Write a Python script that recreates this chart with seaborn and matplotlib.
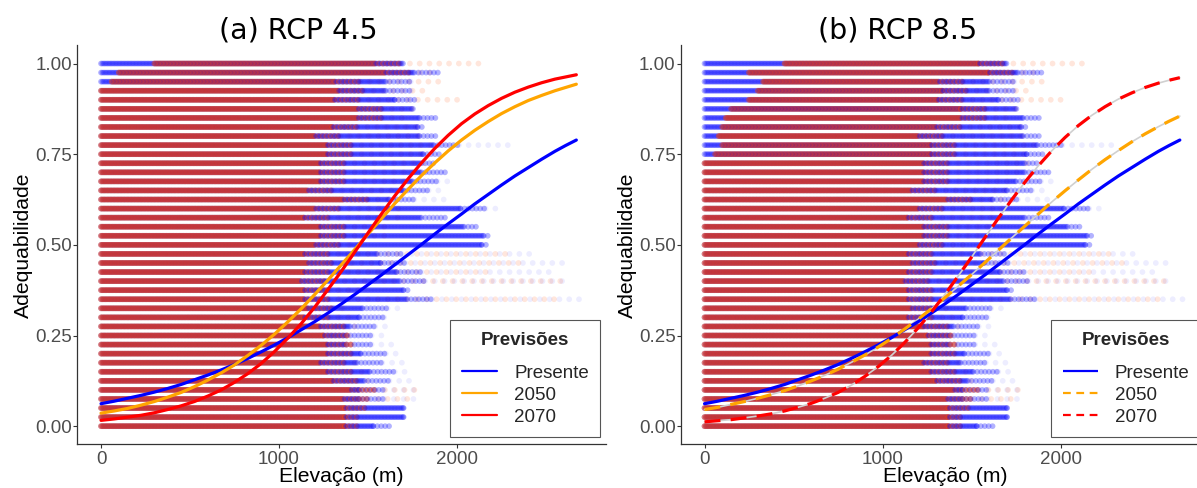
import numpy as np
import pandas as pd
import matplotlib
matplotlib.use("Agg")
import matplotlib.pyplot as plt
from matplotlib.lines import Line2D
import seaborn as sns

sns.set_theme(style="ticks")
plt.rcParams["font.family"] = ["Liberation Sans", "DejaVu Sans"]

# Suitability classes of the raster cells
niveis = [0.000, 0.025, 0.050, 0.075, 0.100, 0.125, 0.150, 0.175, 0.200, 0.225,
          0.250, 0.275, 0.300, 0.325, 0.350, 0.375, 0.400, 0.425, 0.450, 0.475,
          0.500, 0.525, 0.550, 0.575, 0.600, 0.625, 0.650, 0.675, 0.700, 0.725,
          0.750, 0.775, 0.800, 0.825, 0.850, 0.875, 0.900, 0.925, 0.950, 0.975,
          1.000]

# Presente: elevation (m) where the dense band ends / where the scattered cells end
presente_fim = [1530, 1700, 1700, 1450, 1450, 1480, 1510, 1440, 1460, 1380,
                1380, 1400, 1450, 1470, 1720, 1700, 1680, 1660, 1570, 1550,
                2140, 2150, 2040, 1800, 2020, 1620, 1700, 1750, 1800, 1800,
                1810, 1870, 1790, 1780, 1790, 1760, 1650, 1600, 1600, 1760,
                1700]
presente_cauda = [1620, 1720, 1720, 1760, 1770, 1750, 1760, 1700, 1700, 1680,
                  1600, 1640, 1620, 1720, 2690, 1740, 2600, 2520, 2630, 2460,
                  2180, 2180, 2120, 1940, 2240, 1950, 1950, 1950, 1940, 1880,
                  1900, 2300, 1880, 1810, 1880, 1760, 1770, 1760, 1760, 1900,
                  1700]

# Future scenarios (2050 / 2070): start of the band, end of the dense band, end of scattered cells
futuro_ini_a = [0] * 38 + [60, 100, 300]
futuro_ini_b = [0] * 30 + [60, 100, 80, 100, 120, 150, 250, 300, 330, 250, 450]
futuro_fim = [1370, 1370, 1370, 1360, 1400, 1300, 1270, 1230, 1270, 1270,
              1250, 1230, 1140, 1160, 1140, 1140, 1120, 1140, 1160, 1140,
              1200, 1230, 1230, 1140, 1200, 1360, 1160, 1230, 1230, 1230,
              1270, 1270, 1200, 1300, 1440, 1440, 1310, 1335, 1314, 1595,
              1540]
futuro_cauda = [1450, 1450, 1500, 1760, 1770, 1500, 1500, 1450, 1450, 1450,
                1400, 1450, 1400, 1400, 2560, 1450, 2600, 2200, 2400, 2300,
                1500, 1600, 1600, 1700, 1700, 1700, 1700, 1750, 1800, 1850,
                1850, 1900, 1800, 1800, 1700, 1750, 2030, 1810, 1900, 1900,
                2140]

# Fitted suitability curves along elevation
elev_curva = [0, 75, 150, 225, 300, 375, 450, 525, 600, 675, 750, 825, 900, 975,
              1050, 1125, 1200, 1275, 1350, 1425, 1500, 1575, 1650, 1725, 1800,
              1875, 1950, 2025, 2100, 2175, 2250, 2325, 2400, 2475, 2550, 2610,
              2670]
curva_presente = [0.062, 0.069, 0.077, 0.085, 0.094, 0.104, 0.115, 0.128, 0.141,
                  0.155, 0.170, 0.187, 0.205, 0.224, 0.244, 0.266, 0.288, 0.312,
                  0.337, 0.363, 0.390, 0.417, 0.445, 0.473, 0.501, 0.530, 0.558,
                  0.585, 0.613, 0.639, 0.665, 0.690, 0.713, 0.736, 0.758, 0.774,
                  0.789]
curva_2050_a = [0.036, 0.042, 0.049, 0.058, 0.068, 0.080, 0.093, 0.109, 0.127,
                0.147, 0.169, 0.195, 0.223, 0.254, 0.288, 0.324, 0.363, 0.403,
                0.445, 0.487, 0.530, 0.572, 0.614, 0.653, 0.691, 0.726, 0.759,
                0.789, 0.816, 0.840, 0.862, 0.881, 0.898, 0.912, 0.925, 0.934,
                0.943]
curva_2070_a = [0.016, 0.020, 0.025, 0.030, 0.037, 0.046, 0.056, 0.068, 0.083,
                0.100, 0.121, 0.145, 0.173, 0.206, 0.243, 0.283, 0.328, 0.377,
                0.427, 0.480, 0.533, 0.585, 0.635, 0.682, 0.726, 0.766, 0.802,
                0.834, 0.861, 0.884, 0.904, 0.921, 0.935, 0.947, 0.957, 0.963,
                0.969]
curva_2050_b = [0.046, 0.052, 0.060, 0.068, 0.077, 0.087, 0.098, 0.111, 0.125,
                0.140, 0.157, 0.176, 0.196, 0.218, 0.242, 0.268, 0.295, 0.324,
                0.354, 0.386, 0.418, 0.451, 0.485, 0.519, 0.552, 0.585, 0.618,
                0.649, 0.679, 0.708, 0.735, 0.760, 0.784, 0.806, 0.826, 0.841,
                0.855]
curva_2070_b = [0.012, 0.015, 0.018, 0.023, 0.028, 0.034, 0.042, 0.052, 0.063,
                0.077, 0.093, 0.113, 0.137, 0.164, 0.195, 0.231, 0.271, 0.315,
                0.363, 0.414, 0.466, 0.520, 0.573, 0.624, 0.673, 0.718, 0.759,
                0.796, 0.829, 0.857, 0.881, 0.902, 0.919, 0.934, 0.946, 0.954,
                0.961]

series = ["Presente", "2050", "2070"]
cores = {"Presente": "#0000FF", "2050": "#FFA500", "2070": "#FF0000"}
ordem = {s: k for k, s in enumerate(series)}

PASSO_DENSO = 8        # spacing of cells inside a dense band (m)
PASSO_MEIO = 22        # spacing inside the thinning edge of a band (m)
LARGURA_MEIO = 140     # width of the thinning edge (m)
PASSO_ESPARSO = 55     # spacing of scattered cells (m)


def nuvem(futuro_ini):
    """Cells per suitability class: dense band and scattered cells."""
    denso, esparso = [], []
    for i, nivel in enumerate(niveis):
        faixas = [("Presente", 0, presente_fim[i], presente_cauda[i])]
        for s in ("2050", "2070"):
            faixas.append((s, futuro_ini[i], futuro_fim[i], futuro_cauda[i]))
        for serie, ini, fim, cauda in faixas:
            for e in np.arange(ini, fim, PASSO_DENSO):
                denso.append((e, nivel, serie, ordem[serie]))
            meio = min(fim + LARGURA_MEIO, max(cauda, fim))
            for e in np.arange(fim, meio, PASSO_MEIO):
                denso.append((e, nivel, serie, ordem[serie]))
            for e in np.arange(meio, cauda, PASSO_ESPARSO):
                esparso.append((e, nivel, serie, ordem[serie]))
    cols = ["elev", "adeq", "serie", "ordem"]
    denso = pd.DataFrame(denso, columns=cols).sort_values(
        ["adeq", "elev", "ordem"], kind="stable")
    esparso = pd.DataFrame(esparso, columns=cols).sort_values(
        ["adeq", "elev", "ordem"], kind="stable")
    return denso, esparso


def curvas(c2050, c2070):
    linhas = []
    for serie, vals in (("Presente", curva_presente), ("2050", c2050), ("2070", c2070)):
        for e, v in zip(elev_curva, vals):
            linhas.append((e, v, serie))
    return pd.DataFrame(linhas, columns=["elev", "adeq", "serie"])


W, H = 1197, 488
fig = plt.figure(figsize=(W / 100, H / 100), dpi=100)
ax_w = 528.7 / W
ax_h = 398.9 / H
ax_y = (H - 444.3) / H
ax_a = fig.add_axes([77 / W, ax_y, ax_w, ax_h])
ax_b = fig.add_axes([680.5 / W, ax_y, ax_w, ax_h])

paineis = [
    (ax_a, futuro_ini_a, curva_2050_a, curva_2070_a, False, "(a) RCP 4.5", 298, 600),
    (ax_b, futuro_ini_b, curva_2050_b, curva_2070_b, True, "(b) RCP 8.5", 898, 1201),
]

for ax, f_ini, c50, c70, tracejado, titulo, xt, leg_x in paineis:
    denso, esparso = nuvem(f_ini)
    sns.scatterplot(data=esparso, x="elev", y="adeq", hue="serie", palette=cores,
                    s=17, alpha=0.07, linewidth=0, legend=False, ax=ax)
    sns.scatterplot(data=denso, x="elev", y="adeq", hue="serie", palette=cores,
                    s=17, alpha=0.3, linewidth=0, legend=False, ax=ax)

    dfc = curvas(c50, c70)
    if tracejado:
        sns.lineplot(data=dfc[dfc.serie != "Presente"], x="elev", y="adeq",
                     units="serie", estimator=None, color="#d0d0d0", lw=1.2,
                     legend=False, ax=ax)
        sns.lineplot(data=dfc, x="elev", y="adeq", hue="serie", palette=cores,
                     style="serie", dashes={"Presente": "", "2050": (5, 3.2), "2070": (5, 3.2)},
                     lw=2.3, legend=False, ax=ax)
    else:
        sns.lineplot(data=dfc, x="elev", y="adeq", hue="serie", palette=cores,
                     lw=2.3, legend=False, ax=ax)

    ax.set_xlim(-135, 2835)
    ax.set_ylim(-0.05, 1.05)
    ax.set_xticks([0, 1000, 2000])
    ax.set_yticks([0, 0.25, 0.5, 0.75, 1.0])
    ax.set_yticklabels(["0.00", "0.25", "0.50", "0.75", "1.00"])
    ax.tick_params(axis="both", labelsize=13.5, color="#333333", labelcolor="#4d4d4d",
                   length=2.6, width=0.8)
    ax.tick_params(axis="x", pad=2)
    ax.tick_params(axis="y", pad=1)
    for sp in ("left", "bottom"):
        ax.spines[sp].set_color("#333333")
        ax.spines[sp].set_linewidth(0.9)
    sns.despine(ax=ax)
    ax.set_xlabel("Elevação (m)", fontsize=15.2, color="black")
    ax.set_ylabel("Adequabilidade", fontsize=15.2, color="black")
    ax.xaxis.set_label_coords(0.5, -0.057)
    ax.yaxis.set_label_coords(-0.083, 0.5)

    fig.text(xt / W, 1 - 31 / H, titulo, ha="center", va="center", fontsize=20.5,
             family="DejaVu Sans", color="black")

    estilo = [(0, ()), (0, (3.5, 2.5)), (0, (3.5, 2.5))] if tracejado else ["-", "-", "-"]
    handles = [Line2D([], [], color=cores[s], lw=1.6, linestyle=ls)
               for s, ls in zip(series, estilo)]
    leg = ax.legend(handles, series, title="Previsões", loc="lower right",
                    bbox_to_anchor=(leg_x / W, (H - 437) / H),
                    bbox_transform=fig.transFigure, frameon=True, fancybox=False,
                    edgecolor="#555555", framealpha=1, fontsize=13.5,
                    title_fontproperties={"weight": "bold", "size": 13.5},
                    handlelength=1.9, handletextpad=0.9, borderpad=0.6,
                    labelspacing=0.26, borderaxespad=0)
    leg.get_frame().set_linewidth(0.8)
    # wider gap between the legend title and its entries
    leg._legend_box.sep = 11.5

fig.savefig("out.png", dpi=100)
